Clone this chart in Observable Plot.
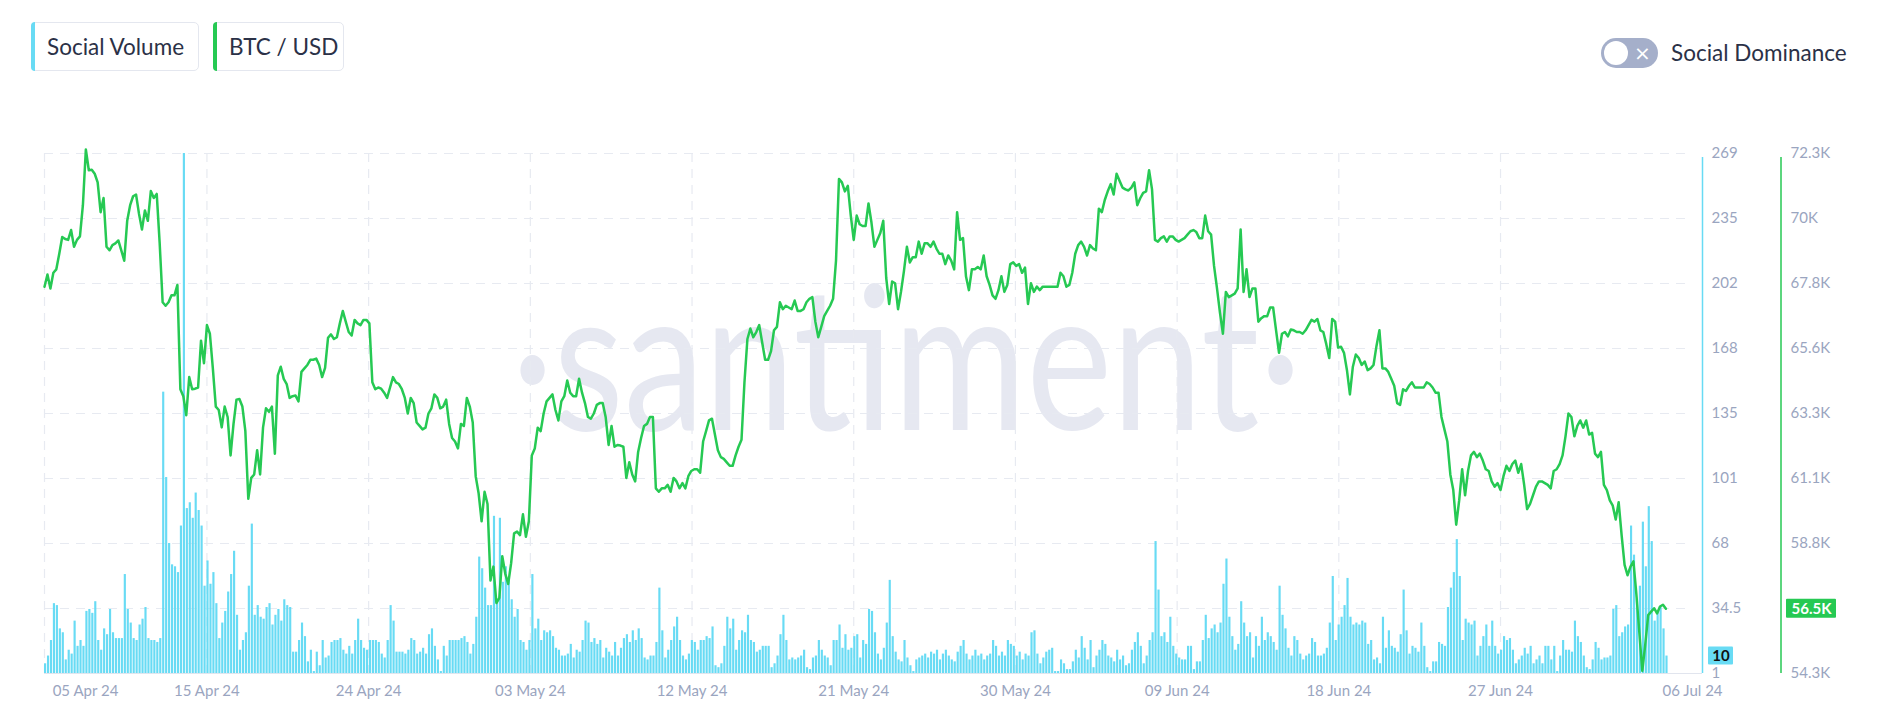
<!DOCTYPE html>
<html><head><meta charset="utf-8">
<script src="https://cdn.jsdelivr.net/npm/d3@7"></script>
<script src="https://cdn.jsdelivr.net/npm/@observablehq/plot@0.6"></script>
<style>
body{margin:0;background:#fff;font-family:Lato,"Open Sans",sans-serif;}
#wrap{position:relative;width:1882px;height:710px;overflow:hidden;background:#fff;}
#chart{position:absolute;left:0;top:0;}
.lg{position:absolute;top:22px;height:49px;box-sizing:border-box;border:1px solid #e4e7ef;border-radius:5px;display:flex;align-items:center;font-size:22.5px;color:#2b3147;padding-left:15px;background:#fff;z-index:2;}
.lg .edge{position:absolute;left:-1px;top:-1px;bottom:-1px;width:4px;border-radius:5px 0 0 5px;}
#toggle{position:absolute;left:1601px;top:38px;width:57px;height:30px;border-radius:15px;background:#a5afca;z-index:2;}
#toggle .knob{position:absolute;left:3px;top:3px;width:24px;height:24px;border-radius:50%;background:#fff;}
#toggle .x{position:absolute;left:33px;top:3px;width:14px;height:24px;color:#fff;font-size:20px;line-height:24px;text-align:center;font-family:"DejaVu Sans",sans-serif;}
#sd{position:absolute;left:1671px;top:38px;height:30px;line-height:30px;font-size:22.5px;color:#2b3147;z-index:2;}
</style></head>
<body>
<div id="wrap">
  <div class="lg" style="left:31px;width:168px;"><span class="edge" style="background:#68DBF4"></span><span id="lg1"></span></div>
  <div class="lg" style="left:213px;width:131px;"><span class="edge" style="background:#26C953"></span><span id="lg2"></span></div>
  <div id="toggle"><div class="knob"></div><div class="x">×</div></div>
  <div id="sd"></div>
  <div id="chart"></div>
</div>
<script>
// ---- data (4-hour candles) ----
const seriesNames = ["Social Volume", "BTC / USD"];
const toggleLabel = "Social Dominance";
const START = "2024-04-06T04:00:00Z";
const STEP_HOURS = 4;
const X_END = "2024-07-08T04:00:00Z";

const socialVolume = [
6,10,18,37,36,24,22,8,13,11,28,
15,18,15,33,34,32,38,18,13,24,
21,34,22,19,19,19,52,34,27,19,
18,26,29,35,19,18,18,17,19,146,
102,68,57,56,53,77,269,86,89,81,
94,85,77,46,59,47,53,37,19,27,
33,43,52,64,31,13,18,22,46,78,
31,36,30,29,35,37,26,31,34,28,
39,36,35,12,12,18,27,20,7,13,
2,12,5,18,9,10,17,18,18,19,
13,11,15,11,18,29,18,14,13,18,
18,18,17,11,9,18,36,28,12,12,
12,11,13,19,18,11,12,14,11,21,
24,15,8,2,15,10,18,18,18,18,
19,20,17,11,16,30,61,55,45,36,
36,82,38,81,48,56,49,39,30,34,
18,17,13,18,52,24,29,18,23,22,
23,20,14,13,10,10,11,16,9,13,
12,18,28,27,17,19,16,18,9,14,
12,10,17,10,14,19,21,17,23,18,
24,19,9,8,10,10,17,45,23,9,
13,18,25,30,18,10,8,11,18,17,
13,18,
18,20,19,25,5,4,6,15,30,24,
29,13,18,23,22,31,18,17,12,13,
15,15,15,4,6,10,21,31,18,8,
9,8,9,10,13,4,3,9,10,18,
13,10,9,5,18,18,26,14,21,13,
14,20,21,9,18,16,34,33,22,11,
8,14,27,49,20,12,8,7,18,9,
5,2,8,9,10,11,9,12,11,13,
8,11,13,10,8,7,12,15,18,11,
8,10,13,10,11,8,10,11,18,15,
10,12,10,18,16,15,10,12,8,11,
10,22,
23,11,6,9,12,13,14,2,2,8,
6,3,3,7,13,9,20,14,8,18,
4,10,13,18,16,10,9,7,13,8,
10,5,6,13,17,22,15,6,10,18,
22,69,44,20,22,17,30,15,11,9,
8,8,15,15,3,7,7,18,31,19,
24,26,22,27,47,60,30,20,13,16,
38,27,20,22,9,20,15,30,18,22,
20,17,13,46,31,24,14,10,20,18,
11,8,10,11,19,17,10,10,11,14,
27,51,18,26,30,36,50,30,26,27,
26,28,
27,16,18,8,9,6,30,14,23,15,
14,12,21,44,23,11,15,14,12,27,
15,4,2,7,7,17,16,15,35,45,
53,70,51,18,29,27,26,28,10,15,
20,26,15,28,15,11,13,20,18,19,
13,6,8,10,14,11,15,6,8,10,
6,15,15,8,15,2,10,18,13,13,
12,28,20,17,10,4,3,8,17,14,
8,9,9,10,34,36,20,22,25,26,
77,62,39,46,79,56,87,69,28,33,
35,24,10
];

const btcPrice = [
67690,68110,67630,68170,68290,68830,69410,69340,69310,69650,
69070,69310,69430,70510,72440,71720,71740,71600,71300,70270,
70760,69070,68950,69130,69190,69290,68950,68590,69970,70510,
70820,70880,70210,69670,70330,69970,71000,70760,70900,69190,
67150,67030,67150,67390,67390,67750,64140,63900,63240,64560,
64140,64160,64200,65820,65040,66360,66060,64860,63540,63420,
62820,63540,63180,61850,62940,63780,63800,63540,62700,60350,
61070,61190,62030,61190,62820,63480,63360,63540,61910,64620,
64920,64500,64320,63840,63900,63920,63720,64740,64860,64980,
65160,65160,65200,64980,64560,64880,65920,66040,65880,65940,
66420,66850,66480,66120,66000,66540,66420,66360,66540,66540,
66420,
64380,64140,64200,64160,64020,63840,64200,64560,64380,64320,
64140,63840,63300,63840,63660,62990,62870,62750,62810,63300,
63480,63960,63840,63480,63540,63780,62940,62450,62330,62090,
62940,62870,63840,63540,62990,61130,60530,59570,60590,60170,
57520,58000,56740,56920,58360,57760,57400,58120,59150,59210,
59090,59810,59030,59570,61850,62090,62810,62690,63300,63720,
63840,63960,63420,63060,63720,63900,64440,64020,63900,63900,
64500,64020,63660,63180,63120,63300,63600,63660,63660,63180,
62210,62870,62150,62210,62190,62150,61070,61610,61190,60950,
61970,62450,62870,62940,63180,63180,60710,60590,60710,60710,
60830,60590,61070,60950,60710,60890,60710,61130,61310,61370,
61370,61250,
62330,62690,63060,63120,62570,62030,61790,61730,61610,61490,
61490,61850,62150,62390,64380,65880,66240,65940,66120,66360,
65760,65160,65160,65460,66180,66300,67150,66910,67030,66970,
66910,67210,66850,66850,66910,67150,67270,67330,66480,65940,
66300,66670,66850,67030,67270,68590,71420,71300,70990,71180,
70150,69310,70150,69850,69790,69790,70570,69910,69070,69310,
69550,69970,67990,67090,67870,67810,66910,67510,68230,69070,
68530,68710,68710,69250,68830,69190,69190,69070,69250,69010,
68830,68830,68470,68770,68590,68290,70270,69310,69370,68050,
67570,68290,68290,68370,68290,68770,68050,67750,67390,67270,
67570,68050,67510,67750,68470,68530,68410,68470,68170,68350,
67090,67810,
67510,67690,67570,67690,67690,67690,67690,67690,67690,68170,
68050,67690,67750,68170,68830,69130,69250,69070,68770,69130,
69010,68950,70390,70270,70690,70990,71240,70880,71600,71360,
71120,71060,71020,71120,71300,70510,70750,70940,70990,71720,
71060,69310,69250,69370,69430,69250,69430,69430,69310,69250,
69310,69370,69490,69610,69650,69580,69370,69370,70150,69610,
69490,68410,67630,66790,66060,67510,67330,67390,67450,67630,
69670,67510,68290,67330,67630,67630,66480,66600,66670,66670,
66970,66970,66180,65400,66060,66120,65970,66210,66180,66120,
66120,66060,66180,66360,66540,66480,66570,66180,66120,65700,
65220,66570,66480,65580,65610,65400,64800,63960,64920,65340,
65220,64980,
65100,64800,64860,64980,65640,66180,64860,64860,64740,64500,
64260,63660,63600,64140,64080,64260,64380,64200,64200,64200,
64200,64380,64320,64200,64020,64020,63180,62750,62330,61190,
60650,59450,60290,61370,60470,61310,61850,61970,61790,61910,
61670,61370,61310,60950,60770,60890,60650,61130,61490,61310,
61550,61670,61250,61550,60830,59990,60170,60470,60770,60950,
60950,60890,60830,60710,61310,61370,61550,61850,62510,63300,
63180,62510,62870,63060,62810,63060,62570,62630,61910,61790,
61970,60830,60650,60290,60110,59630,60230,59090,58060,57700,
58000,58180,57040,55720,54390,55300,56320,56440,56560,56380,
56620,56680,56540
];

const xTickDates = ["2024-04-15T08:00:00Z","2024-04-24T11:00:00Z","2024-05-03T14:00:00Z","2024-05-12T17:00:00Z","2024-05-21T20:00:00Z","2024-05-30T23:00:00Z","2024-06-09T02:00:00Z","2024-06-18T05:00:00Z","2024-06-27T08:00:00Z"];
const xTickLabels = ["15 Apr 24","24 Apr 24","03 May 24","12 May 24","21 May 24","30 May 24","09 Jun 24","18 Jun 24","27 Jun 24"];
const xEdgeLabels = ["05 Apr 24","06 Jul 24"];
const svTicks = [1,34.5,68,101.5,135,168.5,202,235.5,269];
const svTickLabels = ["1","34.5","68","101","135","168","202","235","269"];
const btcTicks = [54300,56550,58800,61050,63300,65550,67800,70050,72300];
const btcTickLabels = ["54.3K","56.5K","58.8K","61.1K","63.3K","65.6K","67.8K","70K","72.3K"];
const watermark = "·santiment·";

// ---- build ----
const SV_MIN = svTicks[0], SV_MAX = svTicks[svTicks.length-1];
const BTC_MIN = btcTicks[0], BTC_MAX = btcTicks[btcTicks.length-1];
const toSv = v => SV_MIN + (v - BTC_MIN) / (BTC_MAX - BTC_MIN) * (SV_MAX - SV_MIN);
const STEP = STEP_HOURS * 3600e3;
const t0 = Date.parse(START);
const data = socialVolume.map((v, i) => ({t: new Date(t0 + i*STEP), t2: new Date(t0 + (i+1)*STEP), sv: v, btc: btcPrice[i]}));
const last = data[data.length-1];
const xStart = new Date(t0), xEnd = new Date(Date.parse(X_END));
const tickDates = xTickDates.map(s => new Date(s));
const xLab = new Map(tickDates.map((d,i) => [+d, xTickLabels[i]]));
const svLab = new Map(svTicks.map((d,i) => [d, svTickLabels[i]]));
const btcPos = btcTicks.map(toSv);
const btcLab = d => { let bi = 0, bd = Infinity; btcPos.forEach((p,i)=>{ if (Math.abs(p-d) < bd) { bd = Math.abs(p-d); bi = i; } }); return btcTickLabels[bi]; };

document.getElementById("lg1").textContent = seriesNames[0];
document.getElementById("lg2").textContent = seriesNames[1];
document.getElementById("sd").textContent = toggleLabel;

const AX = "#9aa5c0", GRID = "#e7eaf1", CYAN = "#68DBF4", GREEN = "#26C953";

const chart = Plot.plot({
  width: 1882, height: 710,
  marginTop: 153, marginBottom: 37, marginLeft: 44, marginRight: 190,
  style: {fontFamily: "Lato, 'Open Sans', sans-serif", background: "transparent"},
  x: {type: "utc", domain: [xStart, xEnd]},
  y: {domain: [SV_MIN, SV_MAX]},
  marks: [
    Plot.text([watermark], {text: d => d, frameAnchor: "middle", dx: 38, dy: -48, fontSize: 200, fontWeight: 400, fill: "#e6e8f1", fontFamily: "Lato, sans-serif"}),
    Plot.ruleY(svTicks.filter(d => d > SV_MIN), {stroke: GRID, strokeDasharray: "9,7", strokeWidth: 1.2}),
    Plot.ruleX([xStart, ...tickDates], {stroke: GRID, strokeDasharray: "9,7", strokeWidth: 1.2}),
    Plot.ruleY([SV_MIN], {stroke: "#e1e5ee", insetRight: -10}),
    Plot.rect(data, {x1: "t", x2: "t2", y1: SV_MIN, y2: "sv", fill: CYAN, insetRight: 0.8}),
    Plot.line(data, {x: "t", y: d => toSv(d.btc), stroke: GREEN, strokeWidth: 2.5, strokeLinejoin: "round"}),
    Plot.axisX(tickDates, {tickSize: 0, tickPadding: 12, tickFormat: d => xLab.get(+d), color: AX, fontSize: 15, label: null}),
    Plot.text([xEdgeLabels[0]], {text: d => d, frameAnchor: "bottom-left", textAnchor: "middle", lineAnchor: "middle", dx: 41, dy: 18, fill: AX, fontSize: 15}),
    Plot.text([xEdgeLabels[1]], {text: d => d, frameAnchor: "bottom-right", textAnchor: "middle", lineAnchor: "middle", dx: 0, dy: 18, fill: AX, fontSize: 15}),
    Plot.ruleX([xEnd], {y1: SV_MIN, y2: SV_MAX, dx: 10, stroke: CYAN, strokeWidth: 1.5, insetBottom: -4}),
    Plot.ruleX([xEnd], {y1: SV_MIN, y2: SV_MAX, dx: 88.5, stroke: GREEN, strokeWidth: 1.5, insetBottom: -4}),
    Plot.axisY(svTicks, {anchor: "right", tickSize: 0, tickPadding: 19, tickFormat: d => svLab.get(d), color: AX, fontSize: 15, label: null}),
    Plot.axisY(btcPos, {anchor: "right", tickSize: 0, tickPadding: 98, tickFormat: btcLab, color: AX, fontSize: 15, label: null}),
    Plot.rect([last], {x1: () => xEnd, x2: () => xEnd, y1: d => d.sv, y2: d => d.sv, insetLeft: 16, insetRight: -41, insetTop: -9, insetBottom: -9, fill: CYAN, rx: 1}),
    Plot.text([last], {x: () => xEnd, y: d => d.sv, text: d => String(d.sv), dx: 28.5, fill: "#111", fontWeight: 700, fontSize: 15}),
    Plot.rect([last], {x1: () => xEnd, x2: () => xEnd, y1: d => toSv(d.btc), y2: d => toSv(d.btc), insetLeft: 94, insetRight: -144, insetTop: -9.5, insetBottom: -9.5, fill: GREEN, rx: 1}),
    Plot.text([last], {x: () => xEnd, y: d => toSv(d.btc), text: d => (d.btc/1000).toFixed(1) + "K", dx: 119, fill: "#fff", fontWeight: 700, fontSize: 15})
  ]
});
d3.select(chart).selectAll("text").filter(function(){ return this.textContent === watermark; })
  .attr("textLength", 790).attr("lengthAdjust", "spacingAndGlyphs");
document.getElementById("chart").appendChild(chart);
</script>
</body></html>
